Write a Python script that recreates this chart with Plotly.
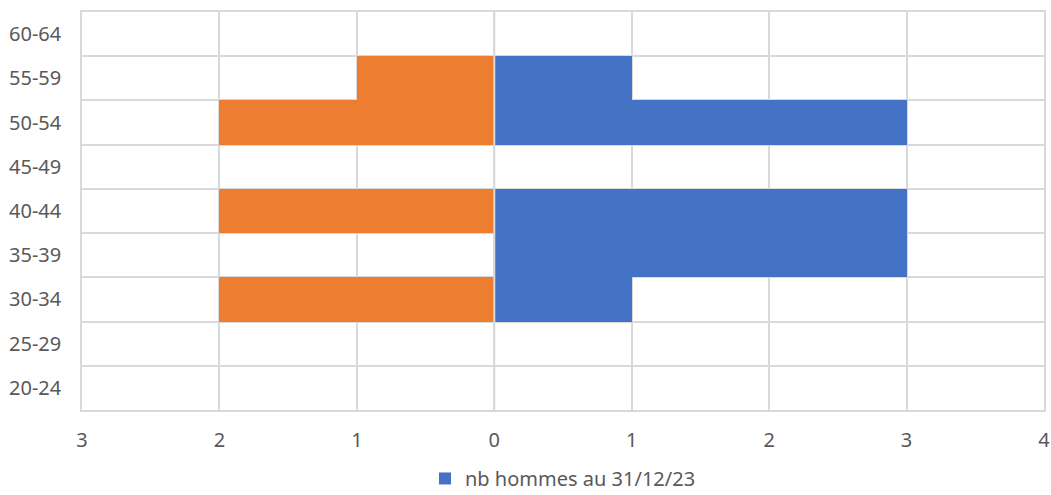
import plotly.graph_objects as go

categories = ["20-24", "25-29", "30-34", "35-39", "40-44", "45-49", "50-54", "55-59", "60-64"]
hommes = [0, 0, 1, 3, 3, 0, 3, 1, 0]
femmes = [0, 0, 2, 0, 2, 0, 2, 1, 0]
x_ticks = [-3, -2, -1, 0, 1, 2, 3, 4]
x_labels = ["3", "2", "1", "0", "1", "2", "3", "4"]

font_family = "Noto Sans, Open Sans, sans-serif"
grid = "#d9d9d9"
txt = "#595959"
fsize = 20

fig = go.Figure()
fig.add_trace(go.Bar(
    y=categories, x=[-v for v in femmes], orientation="h",
    marker=dict(color="#ED7D31", line=dict(width=0)),
    name="nb femmes au 31/12/23", showlegend=False,
))
fig.add_trace(go.Bar(
    y=categories, x=hommes, orientation="h",
    marker=dict(color="#4472C4", line=dict(width=0)),
    name="nb hommes au 31/12/23",
))

# vertical axis line at 0 drawn over the bars
fig.add_vline(x=0, line=dict(color=grid, width=2), layer="above")

fig.update_layout(
    width=1051, height=495,
    margin=dict(l=82, r=7, t=12, b=85, autoexpand=False),
    paper_bgcolor="white", plot_bgcolor="white",
    barmode="overlay", bargap=0,
    font=dict(family=font_family, size=fsize, color=txt),
    showlegend=True,
    legend=dict(orientation="h", x=0.5, xanchor="center", y=-0.172, yanchor="middle",
                font=dict(family=font_family, size=fsize, color=txt)),
)
fig.update_xaxes(
    range=[-3, 4], tickvals=x_ticks, ticktext=x_labels,
    showgrid=True, gridcolor=grid, gridwidth=1.5, zeroline=False,
    showline=True, linecolor=grid, linewidth=1.5, mirror=True,
    ticks="", ticklabelstandoff=11, automargin=False,
    tickfont=dict(family=font_family, size=fsize, color=txt),
)
fig.update_yaxes(
    type="category", categoryorder="array", categoryarray=categories,
    tickson="boundaries", showgrid=True, gridcolor=grid, gridwidth=1.5,
    showline=True, linecolor=grid, linewidth=1.5, mirror=True,
    ticks="", ticklabelstandoff=15, automargin=False,
    tickfont=dict(family=font_family, size=fsize, color=txt),
)
fig.write_html("out.html", config={"displayModeBar": False},
               post_script="document.body.style.margin='0';")
